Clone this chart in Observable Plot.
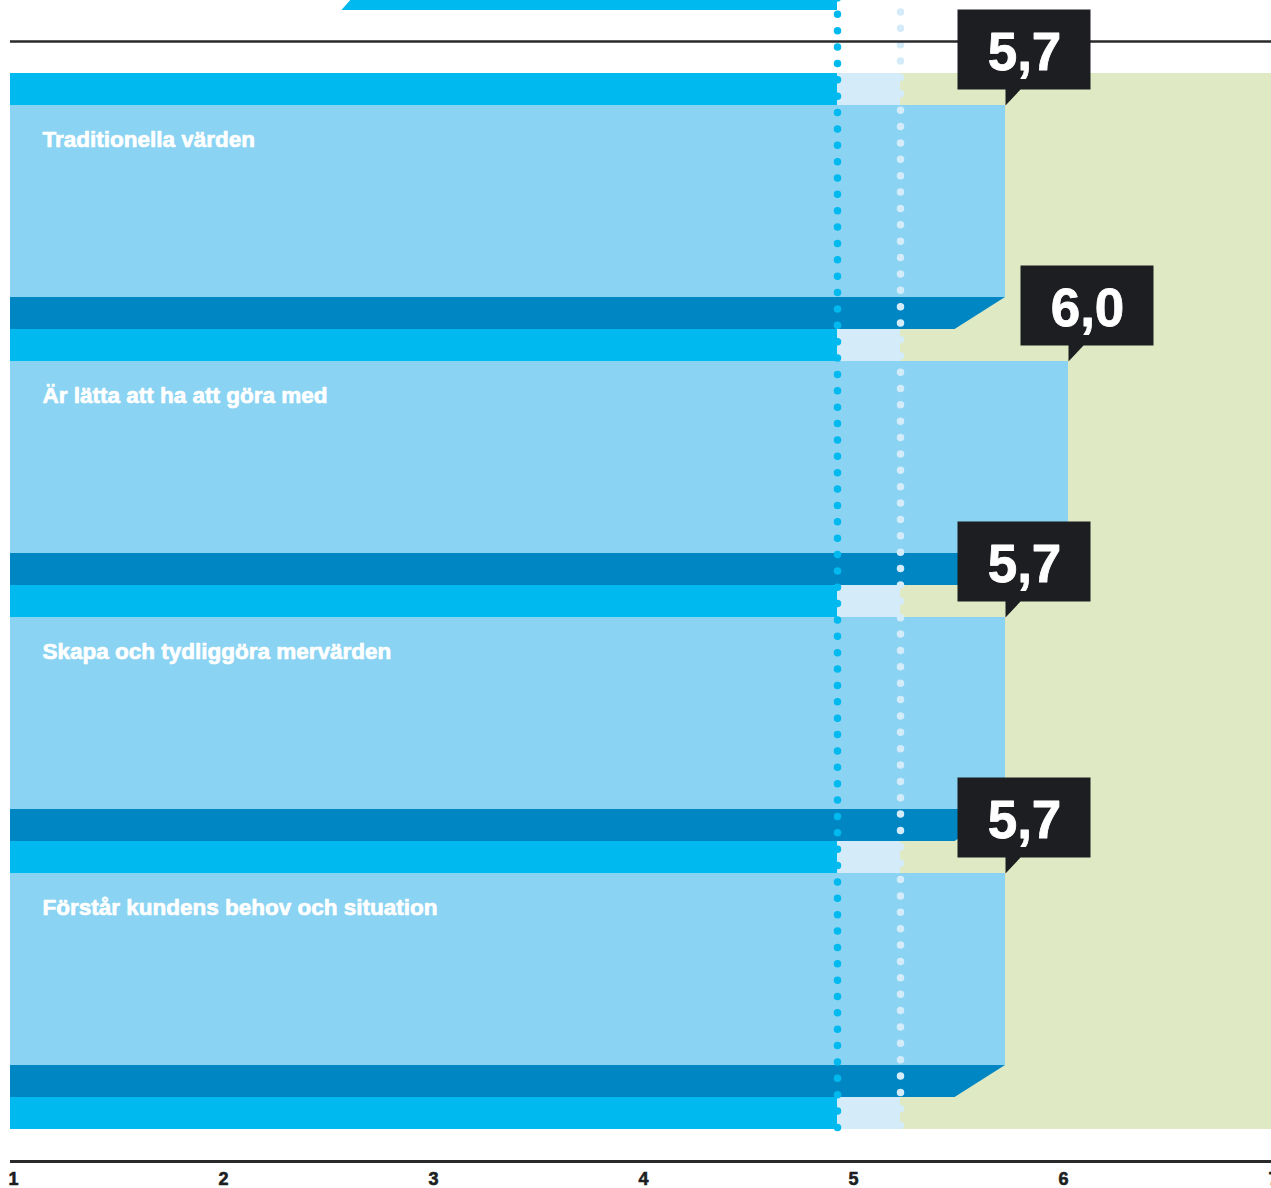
<!DOCTYPE html>
<html>
<head>
<meta charset="utf-8">
<script src="https://cdn.jsdelivr.net/npm/d3@7"></script>
<script src="https://cdn.jsdelivr.net/npm/@observablehq/plot@0.6"></script>
<style>
  html, body { margin: 0; padding: 0; background: #fff; }
  #chart svg { display: block; }
</style>
</head>
<body>
<div id="chart"></div>
<script>
// Scores per statement (scale 1–7)
const categories = [
  "Traditionella värden",
  "Är lätta att ha att göra med",
  "Skapa och tydliggöra mervärden",
  "Förstår kundens behov och situation"
];
const scores = [5.7, 6.0, 5.7, 5.7];

// Dotted reference levels
const benchmarks = [4.9, 5.2];

// Axis tick labels
const xTicks = [1, 2, 3, 4, 5, 6, 7];

// Tail of the preceding panel's band, cut by the top edge
const leadIn = {xTop: 2.585, xBottom: 2.54, xEnd: 4.9};

// Palette
const cyan = "#00b9ef";
const barBlue = "#8ad3f2";
const foldBlue = "#0086c3";
const pale = "#d4ecf9";
const green = "#dfeac4";
const ink = "#1d1e21";

// Vertical layout in row units: every statement takes 8 rows —
// a thin strip, a 6-row bar and a 1-row folded edge.
const ROWS = 8;
const yDomain = [-1, categories.length * ROWS + 2];
const lastRow = categories.length * ROWS + 1;
const base = 0;          // bars start left of the frame and are clipped
const foldRun = 0.24;    // horizontal run of the fold's slanted edge

const data = categories.map((name, i) => ({name, score: scores[i], row: i * ROWS}));
const strips = d3.range(categories.length + 1).map(i => ({row: i * ROWS}));
const folds = data.flatMap(d => [
  {name: d.name, y: d.row + 7, x: d.score},
  {name: d.name, y: d.row + 8, x: d.score - foldRun}
]);
const leadInPts = [
  {y: yDomain[0] - 1.3, x1: leadIn.xTop, x2: leadIn.xEnd},
  {y: yDomain[0] - 0.97, x1: leadIn.xBottom, x2: leadIn.xEnd}
];

const fmt = v => v.toFixed(1).replace(".", ",");

// Speech-bubble box whose pointer tip sits at the anchor point
const callout = {
  draw(ctx) {
    ctx.moveTo(-48, -96);
    ctx.lineTo(85, -96);
    ctx.lineTo(85, -16);
    ctx.lineTo(15, -16);
    ctx.lineTo(0, 0);
    ctx.lineTo(0, -16);
    ctx.lineTo(-48, -16);
    ctx.closePath();
  }
};

const font = "'Liberation Sans', Arial, sans-serif";
const dotted = {strokeWidth: 7.5, strokeLinecap: "round", strokeDasharray: "0 16.37"};

const chart = Plot.plot({
  width: 1271,
  height: 1188,
  marginLeft: 10,
  marginRight: 0,
  marginTop: 41,
  marginBottom: 27,
  style: {fontFamily: font, background: "#fff"},
  x: {domain: [1, 7], range: [18, 1278], axis: null},
  y: {domain: yDomain, reverse: true, axis: null},
  marks: [
    // green field behind everything
    Plot.rect([0], {x1: base, x2: 8, y1: 0, y2: lastRow, fill: green, clip: true}),
    // thin strips: cyan up to first benchmark, pale between benchmarks
    Plot.rect(strips, {x1: base, x2: benchmarks[0], y1: "row", y2: d => d.row + 1, fill: cyan, clip: true}),
    Plot.rect(strips, {x1: benchmarks[0], x2: benchmarks[1], y1: "row", y2: d => d.row + 1, fill: pale}),
    // main bars
    Plot.rect(data, {x1: base, x2: "score", y1: d => d.row + 1, y2: d => d.row + 7, fill: barBlue, clip: true}),
    // folded lower edge with slanted end
    Plot.areaX(folds, {y: "y", x1: base, x2: "x", z: "name", fill: foldBlue, curve: "linear", clip: true}),
    // band fragment at the very top
    Plot.areaX(leadInPts, {y: "y", x1: "x1", x2: "x2", fill: cyan, curve: "linear"}),
    // dotted reference lines
    Plot.ruleX([benchmarks[1]], {y1: yDomain[0] - 1.418, y2: lastRow, stroke: pale, ...dotted}),
    Plot.ruleX([benchmarks[0]], {y1: yDomain[0] - 1.346, y2: lastRow, stroke: cyan, ...dotted}),
    // header and axis lines
    Plot.ruleY([yDomain[0]], {stroke: "#2a2a2c", strokeWidth: 2.6}),
    Plot.ruleY([yDomain[1]], {stroke: "#2a2a2c", strokeWidth: 3}),
    // value callouts
    Plot.dot(data, {x: "score", y: d => d.row + 1, symbol: callout, fill: ink, stroke: "none"}),
    Plot.text(data, {
      x: "score", y: d => d.row + 1, text: d => fmt(d.score),
      dx: 19, dy: -52, fill: "#fff", stroke: "#fff", strokeWidth: 0.8,
      fontSize: 53, fontWeight: "bold", textAnchor: "middle"
    }),
    // statement labels
    Plot.text(data, {
      y: d => d.row + 1, text: "name", frameAnchor: "left", dx: 32, dy: 34,
      textAnchor: "start", fill: "#fff", stroke: "#fff", strokeWidth: 0.7,
      fontSize: 22.5, fontWeight: "bold"
    }),
    // tick labels
    Plot.text(xTicks, {
      x: d => d, text: d => String(d), frameAnchor: "bottom", dx: -5, dy: 23,
      fill: ink, stroke: ink, strokeWidth: 0.6,
      fontSize: 18, fontWeight: "bold", textAnchor: "middle"
    })
  ]
});

document.getElementById("chart").appendChild(chart);
</script>
</body>
</html>
